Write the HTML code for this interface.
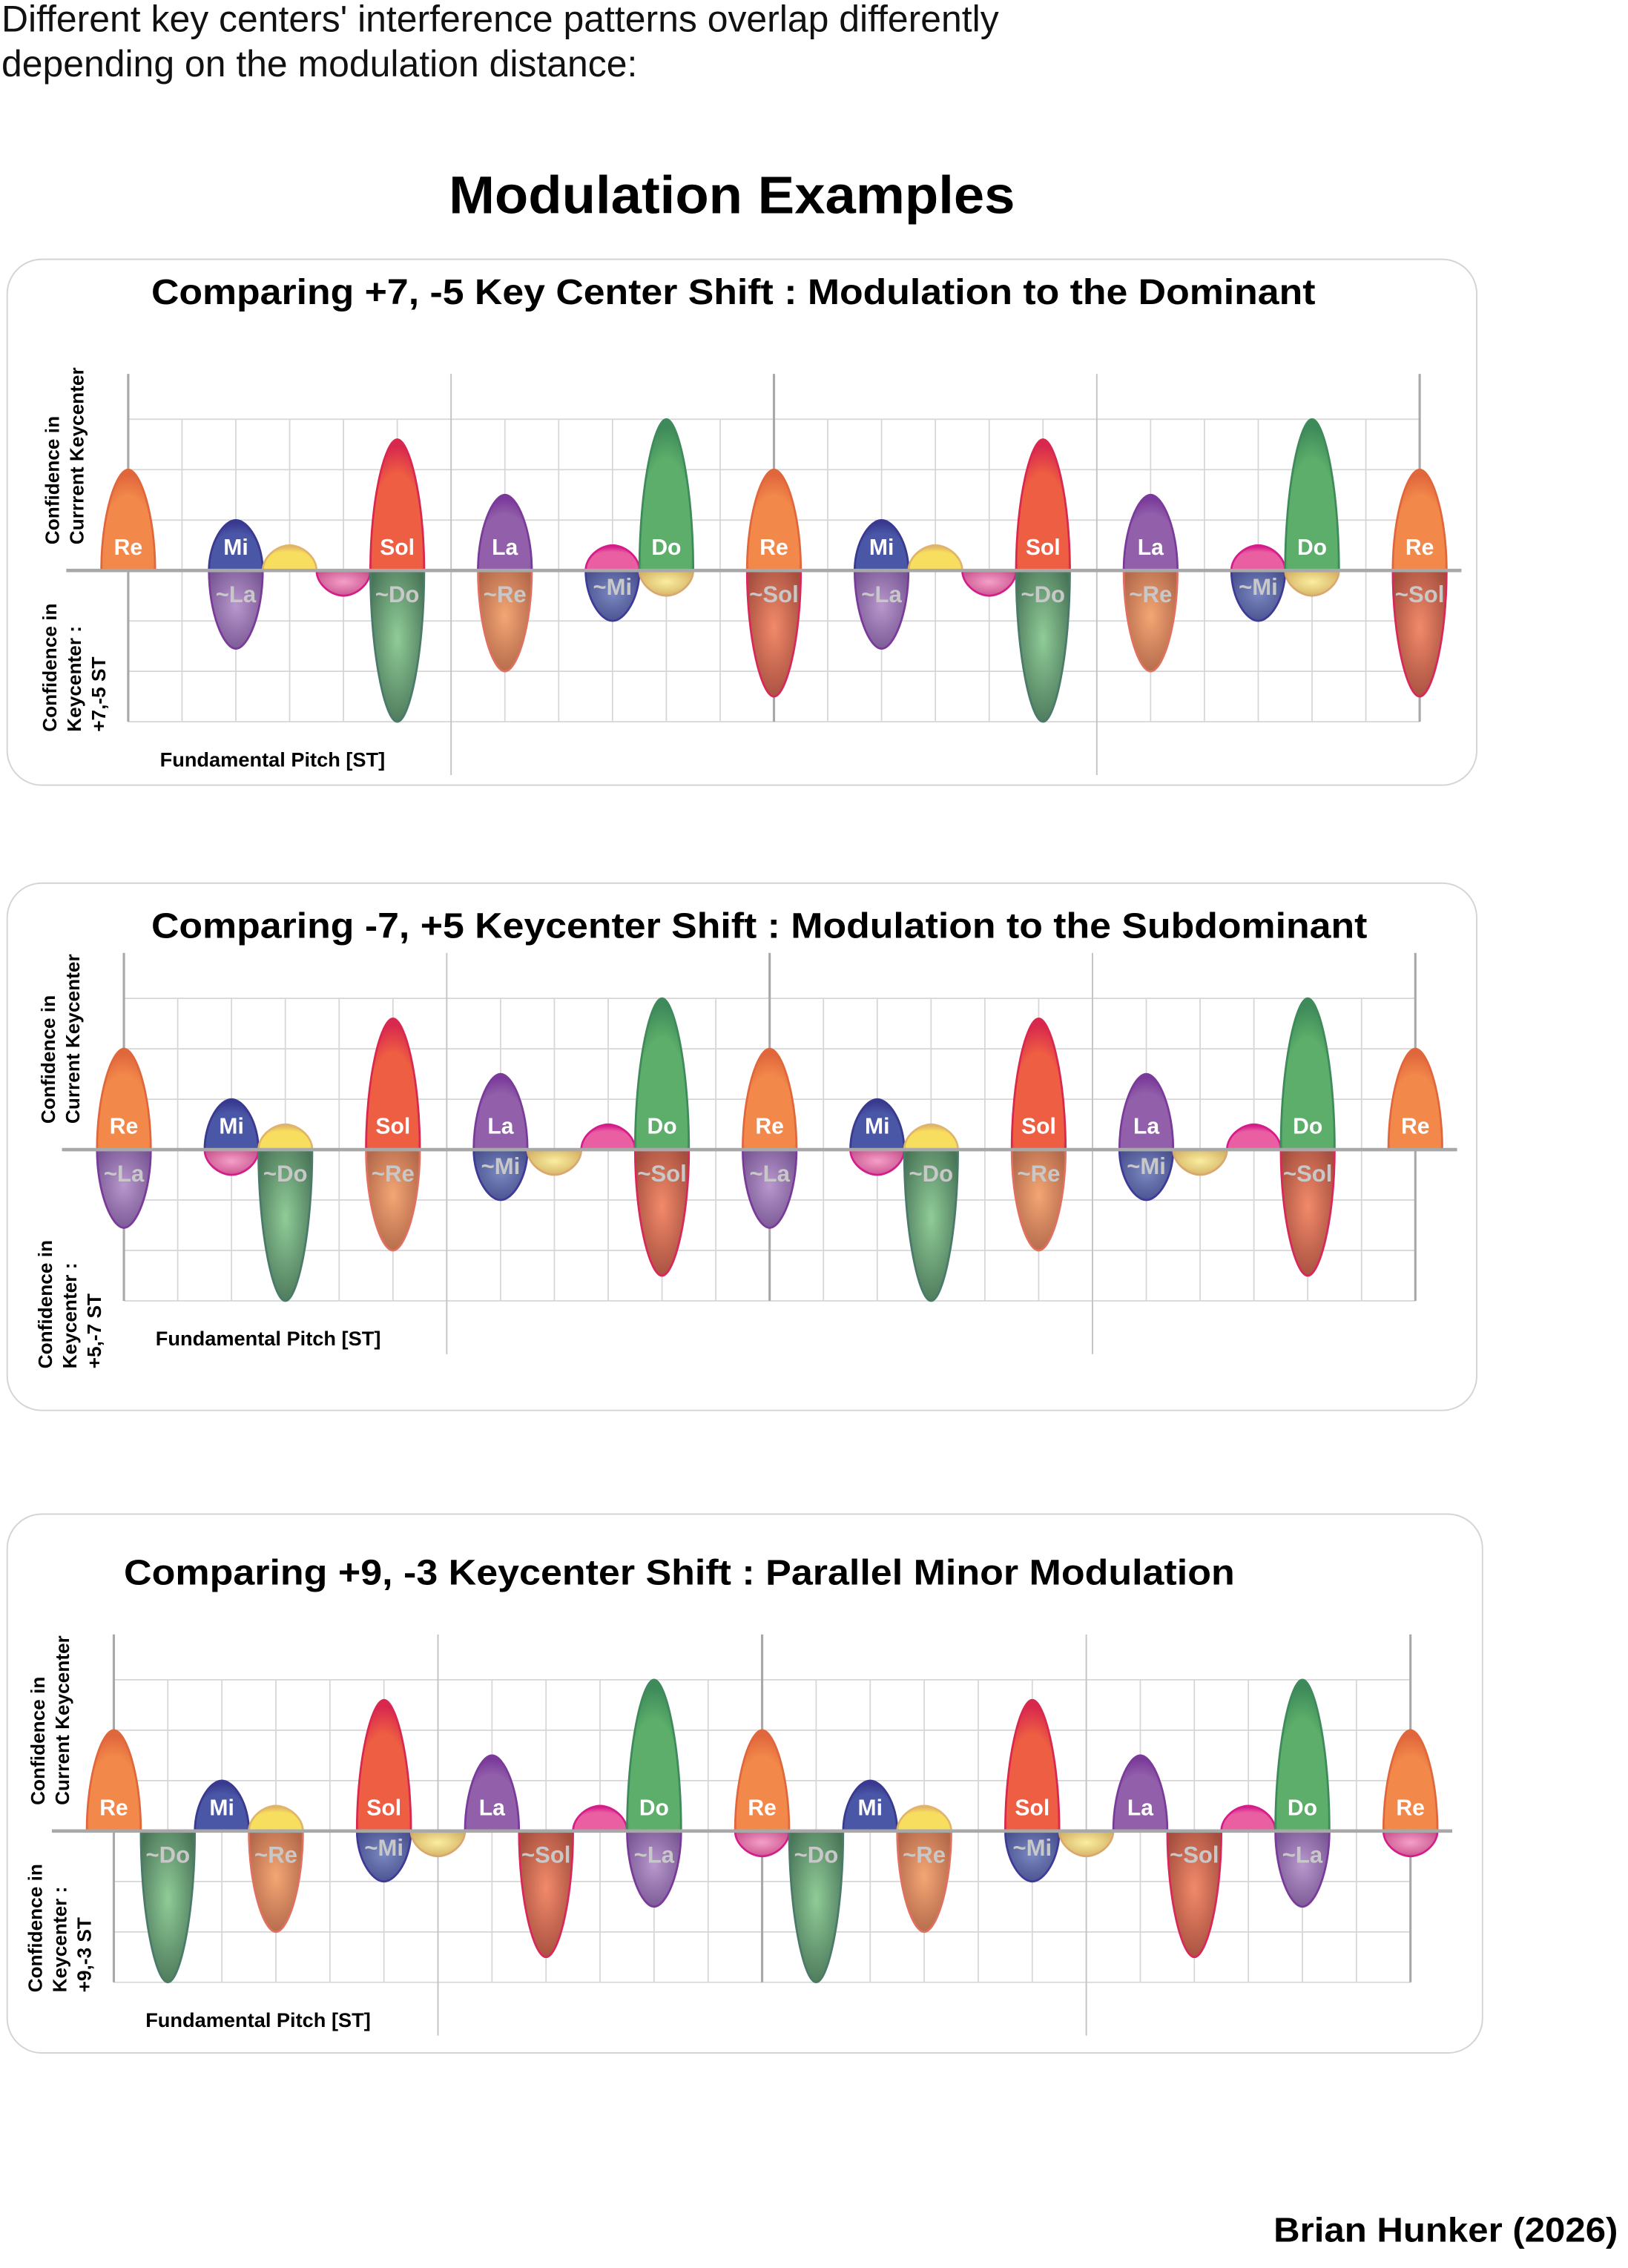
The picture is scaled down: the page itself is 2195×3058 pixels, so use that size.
<!DOCTYPE html>
<html><head><meta charset="utf-8"><style>
html,body{margin:0;padding:0;background:#fff}
svg{display:block}
text{font-family:"Liberation Sans",sans-serif}
</style></head><body>
<svg id="root" width="2195" height="3058" viewBox="0 0 1130 1574.3" preserveAspectRatio="none" xmlns="http://www.w3.org/2000/svg">
<defs id="defs"></defs>
<text x="1" y="22" font-size="25.7" fill="#111">Different key centers' interference patterns overlap differently</text>
<text x="1" y="53" font-size="25.7" fill="#111">depending on the modulation distance:</text>
<text x="508" y="148" font-size="37" font-weight="bold" text-anchor="middle" textLength="393" lengthAdjust="spacingAndGlyphs">Modulation Examples</text>
<text x="884" y="1556" font-size="24" font-weight="bold" textLength="239" lengthAdjust="spacingAndGlyphs">Brian Hunker (2026)</text>
<g id="charts"></g>
</svg>
<script>
// ---- Data ----
const upperNames = ["Re","Mi","","","Sol","La","","Do","Re","Mi","","","Sol","La","","Do","Re"];
const upperKinds = ["re","mi","yel","pink","sol","la","pink","do","re","mi","yel","pink","sol","la","pink","do","re"];
const upperPos = [0,2,3,null,5,7,9,10,12,14,15,null,17,19,21,22,24];
const upperVals = [2,1,0.5,null,2.6,1.5,0.5,3,2,1,0.5,null,2.6,1.5,0.5,3,2];

const p1LowerNames = ["~La","","~Do","~Re","~Mi","","~Sol","~La","","~Do","~Re","~Mi","","~Sol"];
const p1LowerKinds = ["la","pink","do","re","mi","yel","sol","la","pink","do","re","mi","yel","sol"];
const p1LowerPos = [2,4,5,7,9,10,12,14,16,17,19,21,22,24];
const p1LowerVals = [1.55,0.5,3,2,1,0.5,2.5,1.55,0.5,3,2,1,0.5,2.5];

const p2LowerNames = ["~La","","~Do","~Re","~Mi","","~Sol","~La","","~Do","~Re","~Mi","","~Sol"];
const p2LowerKinds = ["la","pink","do","re","mi","yel","sol","la","pink","do","re","mi","yel","sol"];
const p2LowerPos = [0,2,3,5,7,8,10,12,14,15,17,19,20,22];
const p2LowerVals = [1.55,0.5,3,2,1,0.5,2.5,1.55,0.5,3,2,1,0.5,2.5];

const p3LowerNames = ["~Do","~Re","~Mi","","~Sol","~La","","~Do","~Re","~Mi","","~Sol","~La",""];
const p3LowerKinds = ["do","re","mi","yel","sol","la","pink","do","re","mi","yel","sol","la","pink"];
const p3LowerPos = [1,3,5,6,8,10,12,13,15,17,18,20,22,24];
const p3LowerVals = [3,2,1,0.5,2.5,1.5,0.5,3,2,1,0.5,2.5,1.5,0.5];

const titles = ["Comparing +7, -5 Key Center Shift : Modulation to the Dominant",
 "Comparing -7, +5 Keycenter Shift : Modulation to the Subdominant",
 "Comparing +9, -3 Keycenter Shift : Parallel Minor Modulation"];
const lowerAxisLabels = ["+7,-5 ST","+5,-7 ST","+9,-3 ST"];

const COL = {
 re:{f:"#f2884a",s:"#e0663c",lc:"#f4a674",le:"#b2684a",ls:"#e07060"},
 mi:{f:"#4a56a6",s:"#38398f",lc:"#7a88c0",le:"#48508e",ls:"#3e3a98"},
 yel:{f:"#f8de5e",s:"#e0b46a",lc:"#faeea0",le:"#d4b062",ls:"#d8a870"},
 pink:{f:"#ea5ea2",s:"#d41c8a",lc:"#f4a0c8",le:"#c8508c",ls:"#d41c8a"},
 sol:{f:"#ee5e42",s:"#d8284e",lc:"#f28a6a",le:"#a44e3e",ls:"#d8285a"},
 la:{f:"#9260aa",s:"#7a3a9a",lc:"#b898cc",le:"#785694",ls:"#7a3a9a"},
 do:{f:"#5cae6a",s:"#3e8a5a",lc:"#90cc98",le:"#4a7658",ls:"#4a7a6a"}
};
const NS="http://www.w3.org/2000/svg";
const defs=document.getElementById('defs');
for(const k in COL){
  const c=COL[k];
  defs.insertAdjacentHTML('beforeend',
   `<radialGradient id="gu-${k}" cx="50%" cy="75%" r="70%"><stop offset="0" stop-color="${c.f}"/><stop offset="0.7" stop-color="${c.f}"/><stop offset="1" stop-color="${c.s}"/></radialGradient>`+
   `<radialGradient id="gl-${k}" cx="50%" cy="45%" r="60%"><stop offset="0" stop-color="${c.lc}"/><stop offset="1" stop-color="${c.le}"/></radialGradient>`);
}
function el(tag,attrs,parent){const e=document.createElementNS(NS,tag);for(const a in attrs)e.setAttribute(a,attrs[a]);parent.appendChild(e);return e;}

const panels=[
 {box:[5,180,1020,365],title:[105,211,808],x0:89,base:396,lp:p1LowerPos,lv:p1LowerVals,ln:p1LowerNames,lk:p1LowerKinds,step:37.35},
 {box:[5,613,1020,366],title:[105,651,844],x0:86,base:798,lp:p2LowerPos,lv:p2LowerVals,ln:p2LowerNames,lk:p2LowerKinds,step:37.35},
 {box:[5,1051,1024,374],title:[86,1100,771],x0:79,base:1271,lp:p3LowerPos,lv:p3LowerVals,ln:p3LowerNames,lk:p3LowerKinds,step:37.5}
];
const U=35;
const root=document.getElementById('charts');
panels.forEach((P,pi)=>{
  const g=el('g',{},root);
  
  
  const bx=el('rect',{x:P.box[0],y:P.box[1],width:P.box[2],height:P.box[3],rx:24,fill:"#fff",stroke:"#d4d4d4","stroke-width":1},g);
  
  
  const t=el('text',{x:P.title[0],y:P.title[1],"font-size":25,"font-weight":"bold",textLength:P.title[2],lengthAdjust:"spacingAndGlyphs"},g);
  t.textContent=titles[pi];
  
  
  const xs=s=>P.x0+s*P.step;
  const ys=v=>P.base-v*U;
  const top=P.base-3.9*U, bot=ys(-3);
  const grid=el('g',{},g);
  
  
  for(let i=-3;i<=3;i++){ if(i===0)continue;
    el('line',{x1:xs(0),x2:xs(24),y1:ys(i),y2:ys(i),stroke:"#d6d6d6","stroke-width":0.9},grid);}
  for(let s=1;s<24;s++){ if(s%6===0)continue;
    el('line',{x1:xs(s),x2:xs(s),y1:ys(3),y2:bot,stroke:"#d6d6d6","stroke-width":0.9},grid);}
  [6,18].forEach(s=>el('line',{x1:xs(s),x2:xs(s),y1:top,y2:bot+37,stroke:"#c4c4c4","stroke-width":1},grid));
  [0,12,24].forEach(s=>el('line',{x1:xs(s),x2:xs(s),y1:top,y2:bot,stroke:"#a8a8a8","stroke-width":1.6},grid));
  const shapes=el('g',{},g);
  function blob(s,v,kind,up,name){
    const x=xs(s),w=P.step/2,h=v*U,b=P.base,d=up?-1:1;
    const path=`M${x-w},${b} C${x-w},${b+d*h*0.55} ${x-w*0.45},${b+d*h} ${x},${b+d*h} C${x+w*0.45},${b+d*h} ${x+w},${b+d*h*0.55} ${x+w},${b} Z`;
    const c=COL[kind];
    const p=el('path',{d:path,fill:up?`url(#gu-${kind})`:`url(#gl-${kind})`,stroke:up?c.s:c.ls,"stroke-width":1.4},shapes);
    
    
    if(name){
      const tx=el('text',{x:x,y:up?b-11:b+(v>1.2?22:17),"font-size":up?15.5:16,"font-weight":"bold","text-anchor":"middle",fill:up?"#fff":"#c8c8c8"},shapes);
      tx.textContent=name;
      
      
    }
  }
  for(let i=0;i<P.lp.length;i++) blob(P.lp[i],P.lv[i],P.lk[i],false,P.ln[i]);
  for(let i=0;i<upperPos.length;i++){ if(upperPos[i]===null)continue; blob(upperPos[i],upperVals[i],upperKinds[i],true,upperNames[i]); }
  const bl=el('line',{x1:xs(0)-43,x2:xs(24)+29,y1:P.base,y2:P.base,stroke:"#a8a8a8","stroke-width":2.4},g);
  
  
  const ax=P.x0-48;
  const ul=el('text',{transform:`translate(${ax},${P.base-18}) rotate(-90)`,"font-size":13.5,"font-weight":"bold"},g);
  ul.innerHTML=`<tspan x="0" dy="0">Confidence in</tspan><tspan x="0" dy="17">${pi===0?'Currrent':'Current'} Keycenter</tspan>`;
  
  
  const ll=el('text',{transform:`translate(${ax-2},${bot+7+(pi===1?40:0)}) rotate(-90)`,"font-size":13.5,"font-weight":"bold"},g);
  ll.innerHTML=`<tspan x="0" dy="0">Confidence in</tspan><tspan x="0" dy="17">Keycenter  :</tspan><tspan x="0" dy="17">${lowerAxisLabels[pi]}</tspan>`;
  
  
  const xl=el('text',{x:P.x0+22,y:bot+31,"font-size":14,"font-weight":"bold"},g);
  xl.textContent="Fundamental Pitch [ST]";
  
  
});
</script>
</body></html>
